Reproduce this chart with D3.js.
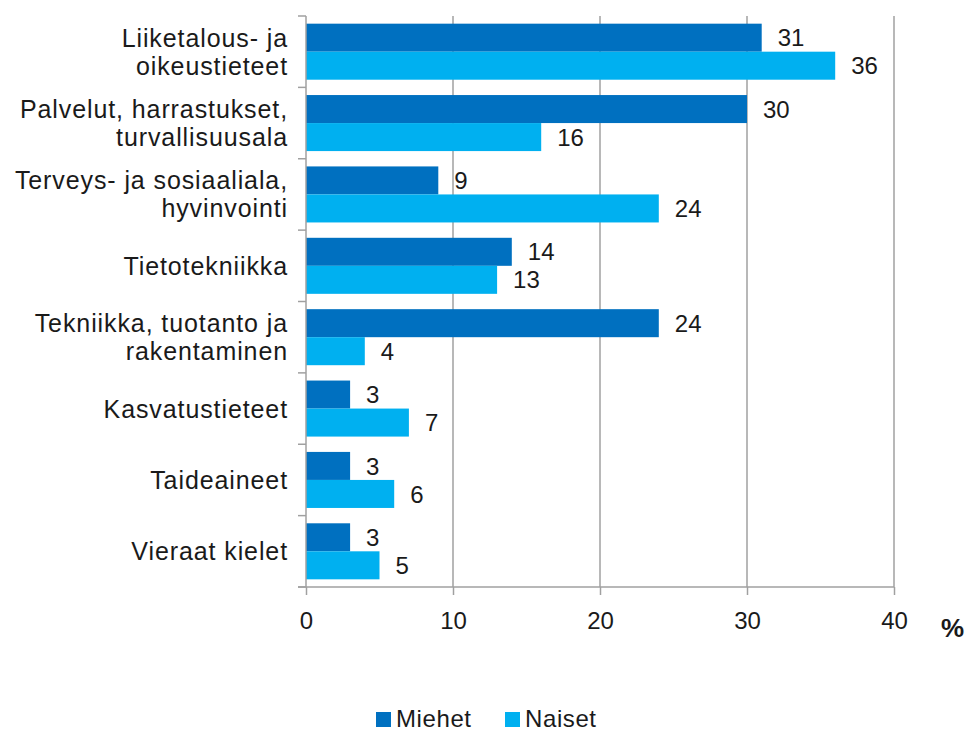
<!DOCTYPE html>
<html>
<head>
<meta charset="utf-8">
<script src="https://cdn.jsdelivr.net/npm/d3@7"></script>
<style>
  html, body { margin: 0; padding: 0; background: #fff; }
  svg { display: block; font-family: "Liberation Sans", Arial, sans-serif; }
</style>
</head>
<body>
<svg id="chart" width="965" height="731"></svg>
<script>
const categories = [
  ["Liiketalous- ja", "oikeustieteet"],
  ["Palvelut, harrastukset,", "turvallisuusala"],
  ["Terveys- ja sosiaaliala,", "hyvinvointi"],
  ["Tietotekniikka"],
  ["Tekniikka, tuotanto ja", "rakentaminen"],
  ["Kasvatustieteet"],
  ["Taideaineet"],
  ["Vieraat kielet"]
];
const seriesNames = ["Miehet", "Naiset"];
const miehet = [31, 30, 9, 14, 24, 3, 3, 3];
const naiset = [36, 16, 24, 13, 4, 7, 6, 5];
const xTicks = [0, 10, 20, 30, 40];
const colors = ["#0070C0", "#00B0F0"];

(function () {
const svg = d3.select("#chart");
const pLeft = 306, pRight = 894, pTop = 16, pBottom = 587;
const catKeys = categories.map((c, i) => i);

const x = d3.scaleLinear().domain([0, 40]).range([pLeft, pRight]);
const y = d3.scaleBand().domain(catKeys).range([pTop, pBottom]).paddingInner(0.215).paddingOuter(0.1075);
const ySub = d3.scaleBand().domain(seriesNames).range([0, y.bandwidth()]);
const yOuter = d3.scaleBand().domain(catKeys).range([pTop, pBottom]);

const gridColor = "#a0a0a0";

// gridlines
svg.append("g").selectAll("line").data(xTicks.slice(1)).join("line")
  .attr("x1", d => x(d)).attr("x2", d => x(d))
  .attr("y1", pTop).attr("y2", pBottom)
  .attr("stroke", gridColor).attr("stroke-width", 1.5);

// bars
const data = [];
catKeys.forEach(i => {
  data.push({ cat: i, s: "Miehet", v: miehet[i], c: colors[0] });
  data.push({ cat: i, s: "Naiset", v: naiset[i], c: colors[1] });
});

svg.append("g").selectAll("rect").data(data).join("rect")
  .attr("x", x(0))
  .attr("y", d => y(d.cat) + ySub(d.s))
  .attr("width", d => x(d.v) - x(0))
  .attr("height", ySub.bandwidth())
  .attr("fill", d => d.c);

// value labels
svg.append("g").selectAll("text").data(data).join("text")
  .attr("x", d => x(d.v) + 16)
  .attr("y", d => y(d.cat) + ySub(d.s) + ySub.bandwidth() / 2)
  .attr("dy", "0.36em")
  .attr("font-size", 24)
  .attr("fill", "#1a1a1a")
  .text(d => d.v);

// left axis line + category boundary ticks
svg.append("line").attr("x1", pLeft).attr("x2", pLeft).attr("y1", pTop).attr("y2", pBottom)
  .attr("stroke", gridColor).attr("stroke-width", 1.5);
const bounds = catKeys.map(i => yOuter(i)).concat([pBottom]);
svg.append("g").selectAll("line").data(bounds).join("line")
  .attr("x1", pLeft - 8).attr("x2", pLeft)
  .attr("y1", d => d).attr("y2", d => d)
  .attr("stroke", gridColor).attr("stroke-width", 1.5);

// bottom axis
const xAxis = d3.axisBottom(x).tickValues(xTicks).tickSize(8).tickPadding(8).tickFormat(d3.format("d"));
const gx = svg.append("g").attr("transform", `translate(0,${pBottom})`).call(xAxis);
gx.select(".domain").remove();
gx.selectAll(".tick line").attr("stroke", gridColor).attr("stroke-width", 1.5);
gx.selectAll(".tick text").attr("font-size", 24).attr("fill", "#1a1a1a")
  .attr("font-family", "Liberation Sans, Arial, sans-serif").attr("y", 25);
svg.append("line").attr("x1", pLeft - 8).attr("x2", pRight).attr("y1", pBottom).attr("y2", pBottom)
  .attr("stroke", gridColor).attr("stroke-width", 1.5);

svg.append("text").attr("x", 941).attr("y", 637)
  .attr("font-size", 26).attr("font-weight", "bold").attr("fill", "#1a1a1a").text("%");

// category labels
const catG = svg.append("g");
categories.forEach((lines, i) => {
  const cy = yOuter(i) + yOuter.bandwidth() / 2;
  const lh = 28;
  const t = catG.append("text")
    .attr("text-anchor", "end")
    .attr("font-size", 25)
    .attr("letter-spacing", 0.9)
    .attr("fill", "#1a1a1a");
  lines.forEach((ln, j) => {
    t.append("tspan")
      .attr("x", 288)
      .attr("y", cy + (j - (lines.length - 1) / 2) * lh)
      .attr("dy", "0.36em")
      .text(ln);
  });
});

// legend
const legX = [376, 505];
const lg = svg.append("g");
seriesNames.forEach((s, i) => {
  lg.append("rect").attr("x", legX[i]).attr("y", 712).attr("width", 15).attr("height", 15).attr("fill", colors[i]);
  lg.append("text").attr("x", legX[i] + 20).attr("y", 727).attr("font-size", 24)
    .attr("letter-spacing", 0.6)
    .attr("fill", "#1a1a1a").text(s);
});
})();
</script>
</body>
</html>
